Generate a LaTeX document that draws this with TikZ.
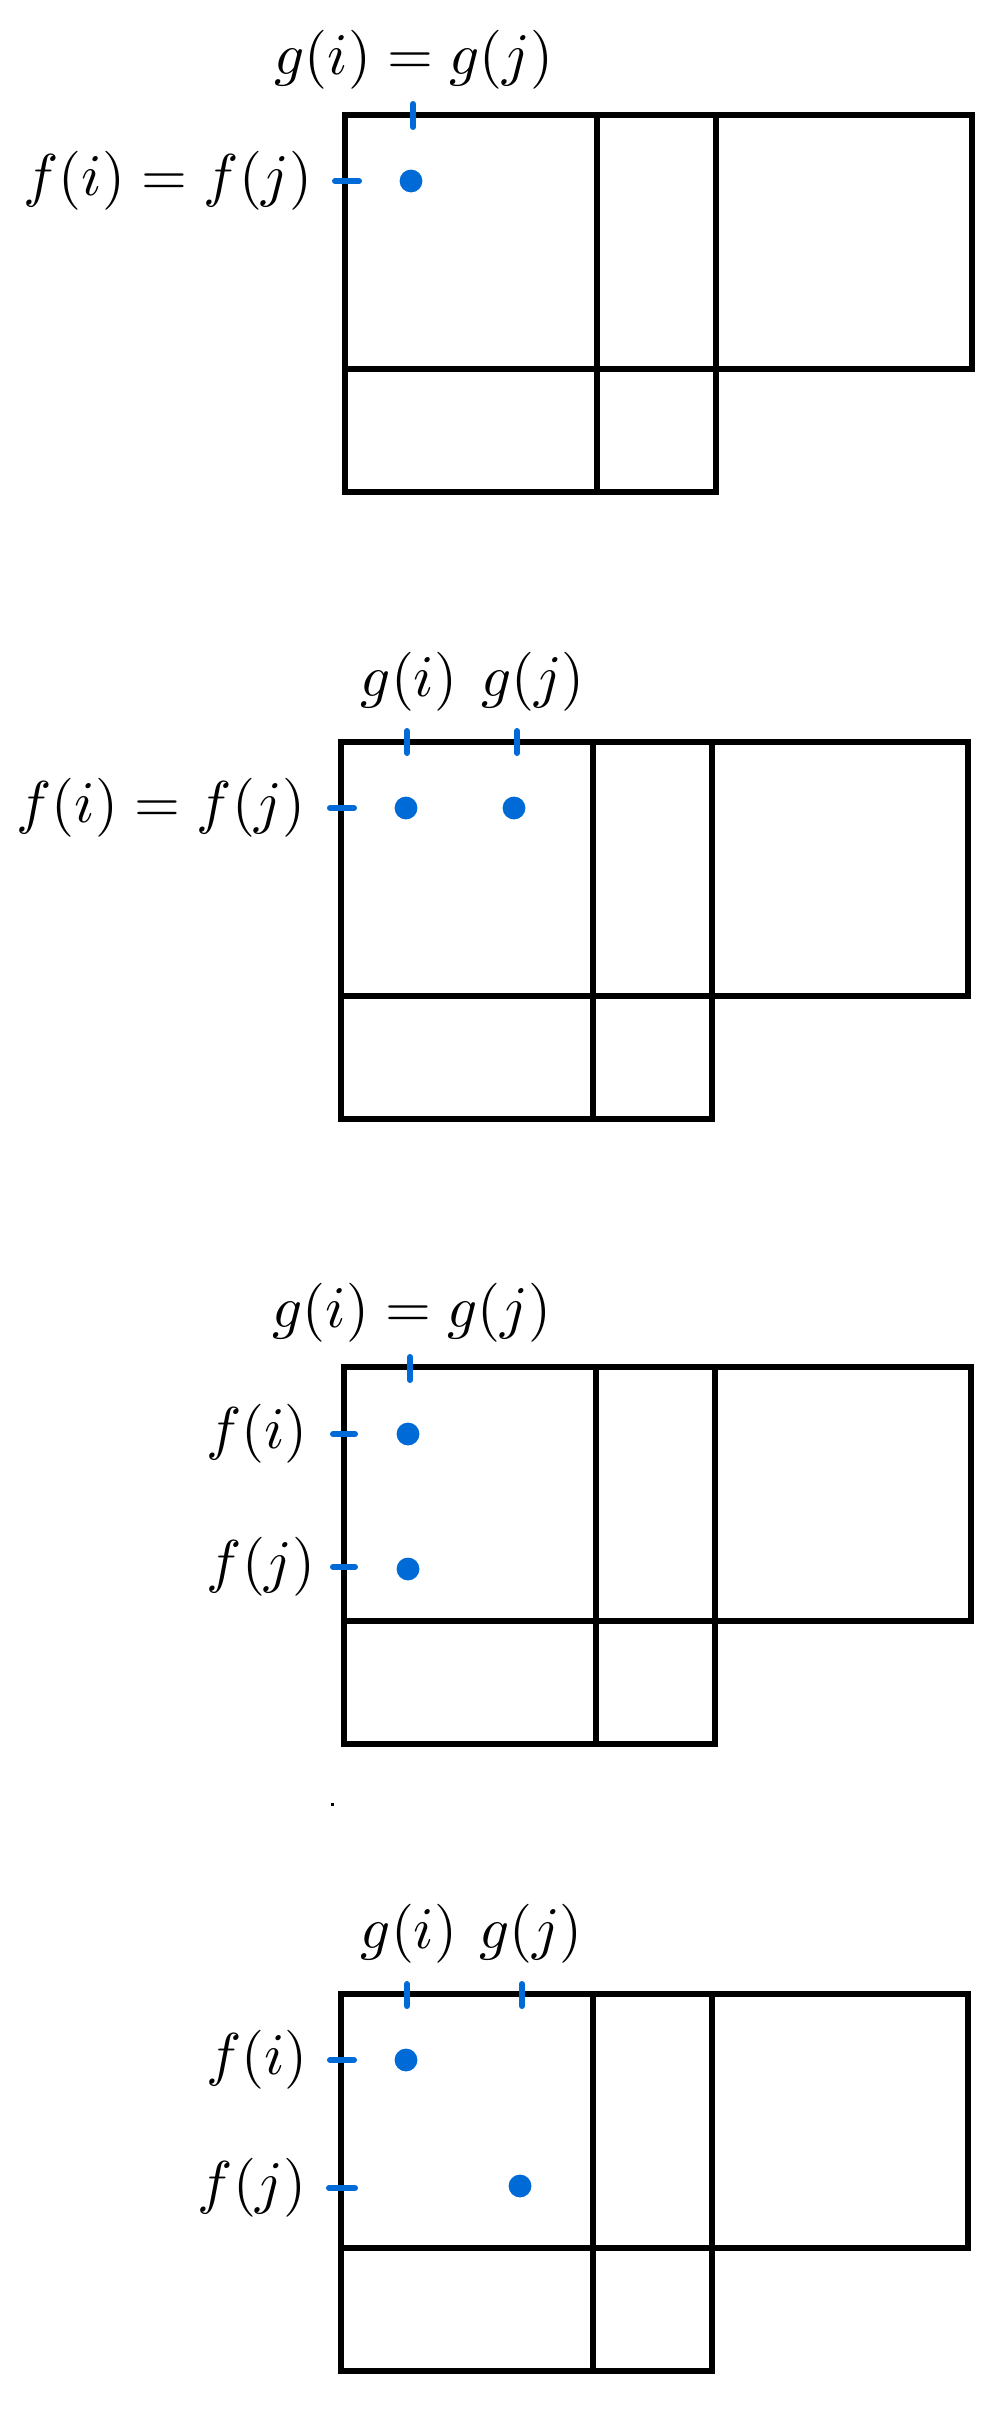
\documentclass[tikz,border=0pt]{standalone}
\definecolor{tickblue}{RGB}{0,106,214}
\newcommand{\labmath}[1]{\scalebox{2.95}{$#1$}}
\tikzset{
  gridline/.style={line width=3.2pt, black, line join=miter},
  tickline/.style={line width=3pt, tickblue, line cap=round},
  blobdot/.style={circle, fill=tickblue, inner sep=0pt, minimum size=11.4pt},
  lab/.style={inner sep=0pt},
  panel/.pic={
    \draw[gridline] (0,0) -- (627,0) -- (627,254) -- (371,254) -- (371,377) -- (0,377) -- cycle;
    \draw[gridline] (0,254) -- (371,254);
    \draw[gridline] (252,0) -- (252,377);
    \draw[gridline] (371,0) -- (371,254);
  }
}
\begin{document}
\begin{tikzpicture}[x=0.5pt,y=-0.5pt]
\useasboundingbox (0,0) rectangle (1000,2414);

% ---------- panel 1 ----------
\pic at (345,115) {panel};
\draw[tickline] (413,104) -- (413,127);
\draw[tickline] (335,181) -- (359,181);
\node[blobdot] (p1d) at (411,181) {};
\node[lab, anchor=base] (p1g) at (414,75) {\labmath{g(i)=g(j)}};
\node[lab, anchor=east] (p1f) at (313,181) {\labmath{f(i)=f(j)}};

% ---------- panel 2 ----------
\pic at (341,742) {panel};
\draw[tickline] (407,731) -- (407,753);
\draw[tickline] (517,731) -- (517,753);
\draw[tickline] (330,808) -- (354,808);
\node[blobdot] (p2a) at (406,808) {};
\node[blobdot] (p2b) at (514,808) {};
\node[lab, anchor=base] (p2gi) at (409,696) {\labmath{g(i)}};
\node[lab, anchor=base] (p2gj) at (533,696) {\labmath{g(j)}};
\node[lab, anchor=east] (p2f) at (306,808) {\labmath{f(i)=f(j)}};

% ---------- panel 3 ----------
\pic at (344,1367) {panel};
\draw[tickline] (410,1357) -- (410,1380);
\draw[tickline] (333,1434) -- (355,1434);
\draw[tickline] (333,1567) -- (355,1567);
\node[blobdot] (p3a) at (408,1434) {};
\node[blobdot] (p3b) at (408,1569) {};
\node[lab, anchor=base] (p3g) at (412,1327) {\labmath{g(i)=g(j)}};
\node[lab, anchor=east] (p3fi) at (308,1434) {\labmath{f(i)}};
\node[lab, anchor=east] (p3fj) at (316,1567) {\labmath{f(j)}};

% stray point
\fill[black] (330.5,1802.5) rectangle (333.5,1805.5);

% ---------- panel 4 ----------
\pic at (341,1994) {panel};
\draw[tickline] (407,1984) -- (407,2006);
\draw[tickline] (522,1984) -- (522,2006);
\draw[tickline] (330,2060) -- (354,2060);
\draw[tickline] (329,2188) -- (355,2188);
\node[blobdot] (p4a) at (406,2060) {};
\node[blobdot] (p4b) at (520,2186) {};
\node[lab, anchor=base] (p4gi) at (409,1948) {\labmath{g(i)}};
\node[lab, anchor=base] (p4gj) at (531,1948) {\labmath{g(j)}};
\node[lab, anchor=east] (p4fi) at (308,2060) {\labmath{f(i)}};
\node[lab, anchor=east] (p4fj) at (307,2188) {\labmath{f(j)}};
\end{tikzpicture}
\end{document}
